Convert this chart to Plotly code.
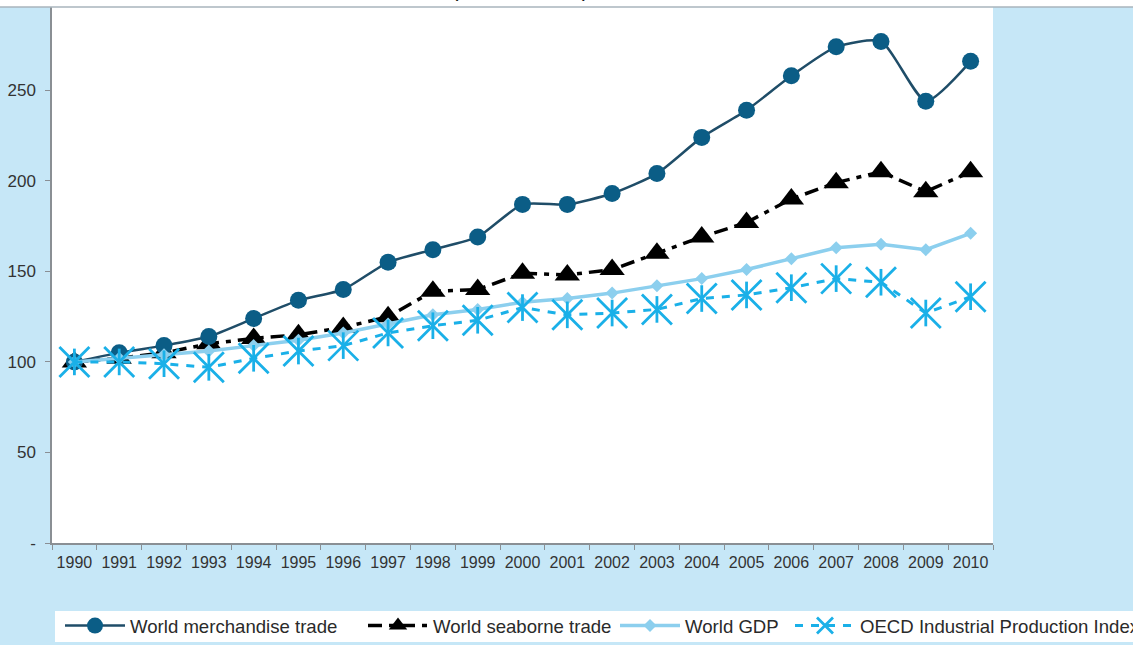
import plotly.graph_objects as go

# Index values, 1990 = 100
years = [str(y) for y in range(1990, 2011)]
merchandise_trade = [100, 105, 109, 114, 124, 134, 140, 155, 162, 169, 187,
                     187, 193, 204, 224, 239, 258, 274, 277, 244, 266]
seaborne_trade = [100, 102, 105, 110, 113, 115, 119, 125, 139, 140, 149,
                  148, 151, 160, 169, 177, 190, 199, 205, 194, 205]
world_gdp = [100, 102, 104, 106, 109, 112, 116, 121, 126, 129, 133,
             135, 138, 142, 146, 151, 157, 163, 165, 162, 171]
oecd_ipi = [100, 100, 99, 97, 102, 106, 109, 116, 120, 123, 130,
            126, 127, 129, 135, 137, 141, 146, 144, 127, 136]

y_ticks = [0, 50, 100, 150, 200, 250]
y_tick_text = ["-", "50", "100", "150", "200", "250"]

W, H = 1133, 645
L, R, T, B = 52, 140, 7, 102
plot_w, plot_h = W - L - R, H - T - B

def px_x(p):
    return (p - L) / plot_w

def px_y(p):
    return (H - B - p) / plot_h

BG = "#c6e7f7"
FONT = "Liberation Sans, Arial, sans-serif"
OECD_BLUE = "#1ab0e8"

# legend entry widths (text part); the row is anchored on its right end
entry_widths = {"merch": 228, "seaborne": 177, "gdp": 100, "oecd": 268}
legend_left = 60
legend_total = sum(75 + w for w in entry_widths.values())

fig = go.Figure()

fig.add_trace(go.Scatter(
    x=years, y=seaborne_trade, name="World seaborne trade",
    mode="lines+markers", legendrank=2, legendwidth=entry_widths["seaborne"],
    line=dict(color="#000000", width=3.5, dash="14px,7px,5px,7px"),
    marker=dict(symbol="triangle-up", size=22, color="#000000"),
))
fig.add_trace(go.Scatter(
    x=years, y=merchandise_trade, name="World merchandise trade",
    mode="lines+markers", legendrank=1, legendwidth=entry_widths["merch"],
    line=dict(color="#1f4d68", width=2.5, shape="spline", smoothing=0.6),
    marker=dict(symbol="circle", size=17, color="#0b5d86"),
))
fig.add_trace(go.Scatter(
    x=years, y=world_gdp, name="World GDP",
    mode="lines+markers", legendrank=3, legendwidth=entry_widths["gdp"],
    line=dict(color="#8ccfee", width=3.5),
    marker=dict(symbol="diamond", size=10, color="#8ccfee"),
))
fig.add_trace(go.Scatter(
    x=years, y=oecd_ipi, name="OECD Industrial Production Index",
    mode="lines+markers", legendrank=4, legendwidth=entry_widths["oecd"],
    line=dict(color=OECD_BLUE, width=3, dash="8px,8px"),
    marker=dict(symbol="x-thin-open", size=30, color=OECD_BLUE,
                line=dict(color=OECD_BLUE, width=2.8)),
))
# vertical stroke completing the six-armed asterisk marker
fig.add_trace(go.Scatter(
    x=years, y=oecd_ipi, mode="markers", showlegend=False, hoverinfo="skip",
    marker=dict(symbol="line-ns-open", size=19, color=OECD_BLUE,
                line=dict(color=OECD_BLUE, width=2.8)),
))

# white strip with the (cropped) heading and the rule below it
fig.add_shape(type="rect", xref="paper", yref="paper",
              x0=px_x(-5), x1=px_x(W + 5), y0=px_y(7), y1=px_y(-5),
              fillcolor="white", line_width=0, layer="above")
fig.add_shape(type="line", xref="paper", yref="paper",
              x0=px_x(-5), x1=px_x(W + 5), y0=px_y(7), y1=px_y(7),
              line=dict(color="#a9b4bd", width=1.5), layer="above")
fig.add_annotation(text="(1990 = 100), 1990–2010",
                   xref="paper", yref="paper", x=px_x(725), y=px_y(-13),
                   xanchor="right", yanchor="middle", showarrow=False,
                   font=dict(family="Open Sans, sans-serif", size=24, color="#111"))

# white band behind the legend, running off the right edge
fig.add_shape(type="rect", xref="paper", yref="paper",
              x0=px_x(55), x1=px_x(W + 10), y0=px_y(642), y1=px_y(611),
              fillcolor="white", line_width=0, layer="above")

fig.update_layout(
    width=W, height=H,
    margin=dict(l=L, r=R, t=T, b=B, pad=0, autoexpand=False),
    paper_bgcolor=BG, plot_bgcolor="white",
    showlegend=True,
    legend=dict(
        orientation="h", x=px_x(legend_left + legend_total), y=px_y(607),
        xanchor="right", yanchor="top",
        bgcolor="rgba(0,0,0,0)", borderwidth=0, itemwidth=60,
        font=dict(family=FONT, size=18.6, color="#2a2a2a"),
        traceorder="normal",
    ),
    xaxis=dict(
        type="category", range=[-0.5, 20.5], showgrid=False,
        showline=True, linecolor="#8a8f94", linewidth=1.5,
        ticks="outside", tickson="boundaries", ticklen=5, tickcolor="#8a8f94",
        tickangle=0, ticklabelstandoff=4,
        tickfont=dict(family=FONT, size=16, color="#333"),
    ),
    yaxis=dict(
        range=[0, 296], showgrid=False, zeroline=False,
        showline=True, linecolor="#8a8f94", linewidth=1.5,
        ticks="outside", ticklen=5, tickcolor="#8a8f94",
        ticklabelstandoff=6,
        tickvals=y_ticks, ticktext=y_tick_text,
        tickfont=dict(family=FONT, size=17, color="#333"),
    ),
)

fig.write_html("out.html")
